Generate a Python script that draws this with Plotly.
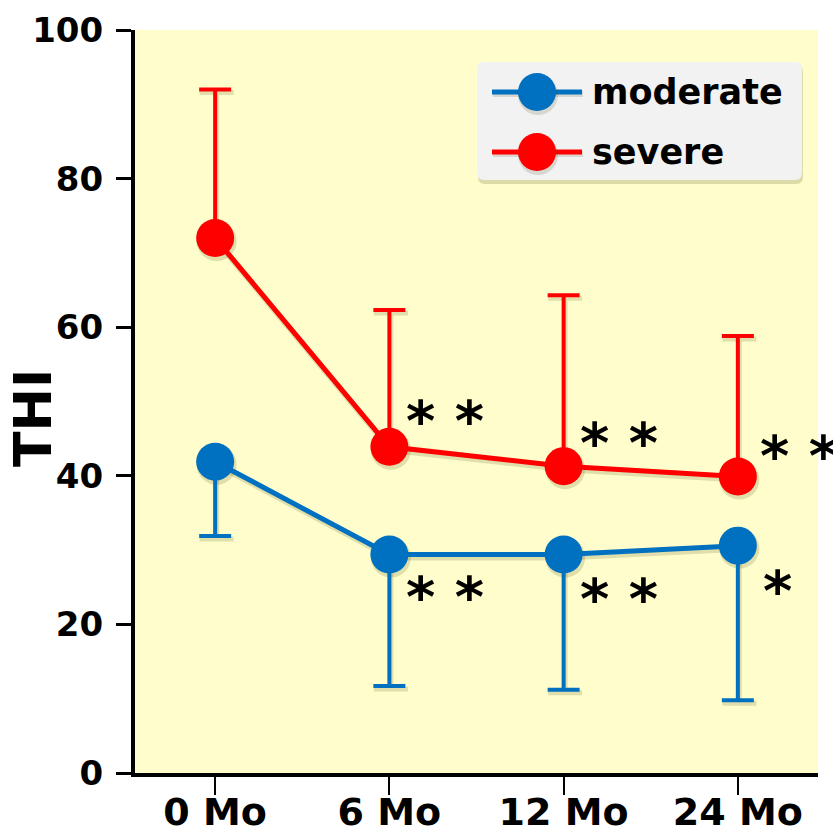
import plotly.graph_objects as go

# Time points and THI scores (mean with one-sided SD bars)
months = ["0 Mo", "6 Mo", "12 Mo", "24 Mo"]
severe_mean = [72.0, 43.9, 41.3, 39.9]
severe_sd = [20.0, 18.4, 23.0, 18.9]
moderate_mean = [41.9, 29.4, 29.4, 30.6]
moderate_sd = [10.0, 17.7, 18.2, 20.8]

# Significance marks placed beside each follow-up point
sig_severe = ["", "* *", "* *", "* *"]
sig_moderate = ["", "* *", "* *", "*"]

y_ticks = [0, 20, 40, 60, 80, 100]

BLUE = "#0070C0"
RED = "#FF0000"
SHADOW = "rgba(60,60,0,0.16)"
FONT = "DejaVu Sans"

W, H = 833, 840
ML, MR, MT, MB = 135, 15, 30, 67
PW, PH = W - ML - MR, H - MT - MB
X_RANGE = [-0.46, 3.46]
Y_RANGE = [0, 100]

xs = list(range(len(months)))


def px_x(p):
    return (p - ML) / PW


def px_y(p):
    return (H - MB - p) / PH


def bold(size):
    return dict(family=FONT, size=size, color="black", weight="bold")


# soft drop shadow offset (pixels -> data units)
sdx = 1.5 * (X_RANGE[1] - X_RANGE[0]) / PW
sdy = -3.0 * (Y_RANGE[1] - Y_RANGE[0]) / PH

fig = go.Figure()


def add_series(mean, up, down, color, name):
    fig.add_trace(go.Scatter(
        x=[v + sdx for v in xs], y=[v + sdy for v in mean], mode="lines+markers",
        line=dict(color=SHADOW, width=6), marker=dict(color=SHADOW, size=40),
        error_y=dict(type="data", symmetric=False, array=up, arrayminus=down,
                     color=SHADOW, thickness=5, width=17),
        hoverinfo="skip", showlegend=False,
    ))
    fig.add_trace(go.Scatter(
        x=xs, y=mean, mode="lines+markers", name=name,
        line=dict(color=color, width=5),
        marker=dict(color=color, size=38),
        error_y=dict(type="data", symmetric=False, array=up, arrayminus=down,
                     color=color, thickness=4, width=16),
        showlegend=False,
    ))


add_series(moderate_mean, [0] * 4, moderate_sd, BLUE, "moderate")
add_series(severe_mean, severe_sd, [0] * 4, RED, "severe")

annotations = []
sev_offsets = [(0, 0), (0.32, 3.6), (0.32, 3.2), (0.35, 2.8)]
mod_offsets = [(0, 0), (0.32, -5.6), (0.32, -5.85), (0.23, -6.1)]
for i, m in enumerate(months):
    if sig_severe[i]:
        dx, dy = sev_offsets[i]
        annotations.append(dict(x=i + dx, y=severe_mean[i] + dy, xref="x", yref="y",
                                text=sig_severe[i], showarrow=False, font=bold(56),
                                xanchor="center", yanchor="middle"))
    if sig_moderate[i]:
        dx, dy = mod_offsets[i]
        annotations.append(dict(x=i + dx, y=moderate_mean[i] + dy, xref="x", yref="y",
                                text=sig_moderate[i], showarrow=False, font=bold(56),
                                xanchor="center", yanchor="middle"))

# Y-axis label
annotations.append(dict(x=px_x(33), y=px_y(418), xref="paper", yref="paper",
                        text="THI", textangle=-90, showarrow=False, font=bold(52),
                        xanchor="center", yanchor="middle"))


def rounded_rect(x0, y0, x1, y1, r):
    """SVG path (paper coords) for a rounded rectangle given in pixels."""
    X = px_x
    Y = px_y
    return (f"M {X(x0 + r)} {Y(y0)} L {X(x1 - r)} {Y(y0)} "
            f"Q {X(x1)} {Y(y0)} {X(x1)} {Y(y0 + r)} L {X(x1)} {Y(y1 - r)} "
            f"Q {X(x1)} {Y(y1)} {X(x1 - r)} {Y(y1)} L {X(x0 + r)} {Y(y1)} "
            f"Q {X(x0)} {Y(y1)} {X(x0)} {Y(y1 - r)} L {X(x0)} {Y(y0 + r)} "
            f"Q {X(x0)} {Y(y0)} {X(x0 + r)} {Y(y0)} Z")


# Legend box drawn with shapes
shapes = [
    dict(type="path", xref="paper", yref="paper",
         path=rounded_rect(478, 65, 803, 184, 7),
         fillcolor="rgba(60,60,0,0.18)", line=dict(width=0), layer="above"),
    dict(type="path", xref="paper", yref="paper",
         path=rounded_rect(477, 62, 802, 180, 7),
         fillcolor="#F2F2F2", line=dict(width=0), layer="above"),
]
legend_rows = [("moderate", BLUE, 92), ("severe", RED, 152)]
for label, color, ypix in legend_rows:
    shapes.append(dict(type="line", xref="paper", yref="paper",
                       x0=px_x(493), x1=px_x(583), y0=px_y(ypix + 2), y1=px_y(ypix + 2),
                       line=dict(color="rgba(60,60,0,0.14)", width=6), layer="above"))
    shapes.append(dict(type="line", xref="paper", yref="paper",
                       x0=px_x(492), x1=px_x(582), y0=px_y(ypix), y1=px_y(ypix),
                       line=dict(color=color, width=5), layer="above"))
    shapes.append(dict(type="circle", xref="paper", yref="paper",
                       xsizemode="pixel", ysizemode="pixel",
                       xanchor=px_x(538), yanchor=px_y(ypix + 3),
                       x0=-20, x1=20, y0=-20, y1=20,
                       fillcolor="rgba(60,60,0,0.14)", line=dict(width=0), layer="above"))
    shapes.append(dict(type="circle", xref="paper", yref="paper",
                       xsizemode="pixel", ysizemode="pixel",
                       xanchor=px_x(537), yanchor=px_y(ypix),
                       x0=-19, x1=19, y0=-19, y1=19,
                       fillcolor=color, line=dict(width=0), layer="above"))
    annotations.append(dict(x=px_x(590), y=px_y(ypix), xref="paper", yref="paper",
                            text=label, showarrow=False, font=bold(35),
                            xanchor="left", yanchor="middle"))

fig.update_layout(
    width=W, height=H,
    margin=dict(l=ML, r=MR, t=MT, b=MB, autoexpand=False),
    paper_bgcolor="white",
    plot_bgcolor="#FFFDCB",
    font=dict(family=FONT, color="black"),
    shapes=shapes,
    annotations=annotations,
    hovermode=False,
)

fig.update_xaxes(
    range=X_RANGE, tickvals=xs, ticktext=months, automargin=False,
    showline=True, linecolor="black", linewidth=4,
    ticks="outside", ticklen=18, tickwidth=2, tickcolor="black",
    tickfont=bold(38), ticklabelstandoff=-16,
    showgrid=False, zeroline=False,
)
fig.update_yaxes(
    range=Y_RANGE, tickvals=y_ticks, automargin=False,
    showline=True, linecolor="black", linewidth=4,
    ticks="outside", ticklen=15, tickwidth=3, tickcolor="black",
    tickfont=bold(34),
    ticklabelstandoff=6,
    showgrid=False, zeroline=False,
)

fig.write_html("out.html")
